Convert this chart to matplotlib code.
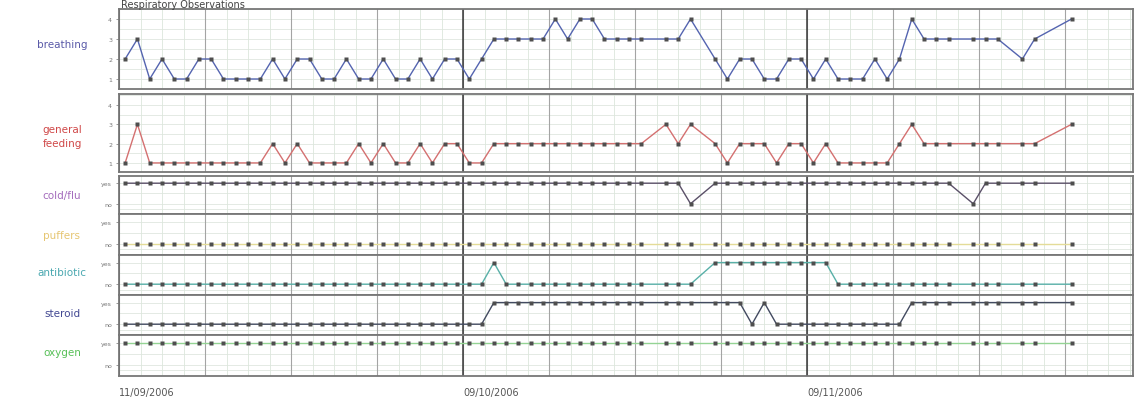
import matplotlib
matplotlib.use('Agg')
import matplotlib.pyplot as plt
import numpy as np

# one observation per day, None = not recorded
days = list(range(78))

breathing = [2, 3, 1, 2, 1, 1, 2, 2, 1, 1,
             1, 1, 2, 1, 2, 2, 1, 1, 2, 1,
             1, 2, 1, 1, 2, 1, 2, 2, 1, 2,
             3, 3, 3, 3, 3, 4, 3, 4, 4, 3,
             3, 3, 3, None, 3, 3, 4, None, 2, 1,
             2, 2, 1, 1, 2, 2, 1, 2, 1, 1,
             1, 2, 1, 2, 4, 3, 3, 3, None, 3,
             3, 3, None, 2, 3, None, None, 4]

feeding = [1, 3, 1, 1, 1, 1, 1, 1, 1, 1,
           1, 1, 2, 1, 2, 1, 1, 1, 1, 2,
           1, 2, 1, 1, 2, 1, 2, 2, 1, 1,
           2, 2, 2, 2, 2, 2, 2, 2, 2, 2,
           2, 2, 2, None, 3, 2, 3, None, 2, 1,
           2, 2, 2, 1, 2, 2, 1, 2, 1, 1,
           1, 1, 1, 2, 3, 2, 2, 2, None, 2,
           2, 2, None, 2, 2, None, None, 3]

# yes = 1, no = 0
coldflu = [1, 1, 1, 1, 1, 1, 1, 1, 1, 1,
           1, 1, 1, 1, 1, 1, 1, 1, 1, 1,
           1, 1, 1, 1, 1, 1, 1, 1, 1, 1,
           1, 1, 1, 1, 1, 1, 1, 1, 1, 1,
           1, 1, 1, None, 1, 1, 0, None, 1, 1,
           1, 1, 1, 1, 1, 1, 1, 1, 1, 1,
           1, 1, 1, 1, 1, 1, 1, 1, None, 0,
           1, 1, None, 1, 1, None, None, 1]

puffers = [0, 0, 0, 0, 0, 0, 0, 0, 0, 0,
           0, 0, 0, 0, 0, 0, 0, 0, 0, 0,
           0, 0, 0, 0, 0, 0, 0, 0, 0, 0,
           0, 0, 0, 0, 0, 0, 0, 0, 0, 0,
           0, 0, 0, None, 0, 0, 0, None, 0, 0,
           0, 0, 0, 0, 0, 0, 0, 0, 0, 0,
           0, 0, 0, 0, 0, 0, 0, 0, None, 0,
           0, 0, None, 0, 0, None, None, 0]

antibiotic = [0, 0, 0, 0, 0, 0, 0, 0, 0, 0,
              0, 0, 0, 0, 0, 0, 0, 0, 0, 0,
              0, 0, 0, 0, 0, 0, 0, 0, 0, 0,
              1, 0, 0, 0, 0, 0, 0, 0, 0, 0,
              0, 0, 0, None, 0, 0, 0, None, 1, 1,
              1, 1, 1, 1, 1, 1, 1, 1, 0, 0,
              0, 0, 0, 0, 0, 0, 0, 0, None, 0,
              0, 0, None, 0, 0, None, None, 0]

steroid = [0, 0, 0, 0, 0, 0, 0, 0, 0, 0,
           0, 0, 0, 0, 0, 0, 0, 0, 0, 0,
           0, 0, 0, 0, 0, 0, 0, 0, 0, 0,
           1, 1, 1, 1, 1, 1, 1, 1, 1, 1,
           1, 1, 1, None, 1, 1, 1, None, 1, 1,
           1, 0, 1, 0, 0, 0, 0, 0, 0, 0,
           0, 0, 0, 0, 1, 1, 1, 1, None, 1,
           1, 1, None, 1, 1, None, None, 1]

oxygen = [1, 1, 1, 1, 1, 1, 1, 1, 1, 1,
          1, 1, 1, 1, 1, 1, 1, 1, 1, 1,
          1, 1, 1, 1, 1, 1, 1, 1, 1, 1,
          1, 1, 1, 1, 1, 1, 1, 1, 1, 1,
          1, 1, 1, None, 1, 1, 1, None, 1, 1,
          1, 1, 1, 1, 1, 1, 1, 1, 1, 1,
          1, 1, 1, 1, 1, 1, 1, 1, None, 1,
          1, 1, None, 1, 1, None, None, 1]

date_pos = [-0.5, 27.5, 55.5]
date_labels = ['11/09/2006', '09/10/2006', '09/11/2006']

W, H = 1135, 402
fig = plt.figure(figsize=(W / 100, H / 100), dpi=100)
fig.patch.set_facecolor('white')

# label, data, scale?, label colour, line colour, top px, bottom px, label y px
panels = [
    ('breathing', breathing, True, '#5a5aa8', '#5464b0', 10, 90, 45),
    ('general\nfeeding', feeding, True, '#d04848', '#d47070', 95, 173, 137),
    ('cold/flu', coldflu, False, '#a46cbc', '#5a5068', 177, 215, 196),
    ('puffers', puffers, False, '#e6c672', '#e4dc98', 215, 256, 236),
    ('antibiotic', antibiotic, False, '#4aa8b0', '#58b0a8', 256, 296, 273),
    ('steroid', steroid, False, '#424892', '#424a60', 296, 336, 314),
    ('oxygen', oxygen, False, '#58c058', '#94d494', 336, 377, 353),
]

x0, x1 = -0.5, 82.0
for name, vals, scale, lcol, pcol, top, bot, ly in panels:
    ax = fig.add_axes([119 / W, 1 - bot / H, (1133 - 119) / W, (bot - top) / H])
    ax.set_xlim(x0, x1)
    if scale:
        if name == 'breathing':
            ax.set_ylim(0.5, 4.5)
        else:
            ax.set_ylim(0.53, 4.57)
        ax.set_yticks([1, 2, 3, 4])
        ax.set_yticklabels(['1', '2', '3', '4'])
        hl = np.arange(0.5, 4.6, 0.5)
    else:
        ax.set_ylim(-0.5, 1.35)
        ax.set_yticks([0, 1])
        ax.set_yticklabels(['no', 'yes'])
        hl = [-0.25, 0, 0.5, 1]
    for h in hl:
        ax.axhline(h, color='#dfe7df', lw=0.6, zorder=0)
    for v in np.arange(x0, x1, 1.75):
        ax.axvline(v, color='#dce6dc', lw=0.6, zorder=0)
    for v in np.arange(x0, x1, 7):
        ax.axvline(v, color='#a4a4a4', lw=0.8, zorder=1)
    for v in date_pos:
        ax.axvline(v, color='#3a3a3a', lw=1.1, zorder=1)

    xs = [d for d, v in zip(days, vals) if v is not None]
    ys = [v for v in vals if v is not None]
    ax.plot(xs, ys, color=pcol, lw=1.0, zorder=3)
    ax.plot(xs, ys, 's', ms=3.2, color='#4e4e4e', mec='none', zorder=4)

    ax.set_xticks([])
    ax.tick_params(axis='y', length=2, width=0.6, color='#888888',
                   labelsize=4.5, labelcolor='#777777', pad=3)
    for s in ax.spines.values():
        s.set_color('#777777')
        s.set_linewidth(1.3)

    fig.text(62 / W, 1 - ly / H, name, ha='center', va='center',
             color=lcol, fontsize=7.5, linespacing=1.5)

for p, lab in zip(date_pos, date_labels):
    fig.text((119 + (p - x0) * (1014 / (x1 - x0))) / W, 1 - 393 / H, lab,
             ha='left', va='center', fontsize=7, color='#555555')

fig.text(121 / W, 1 - 0.5 / H, 'Respiratory Observations', ha='left', va='top',
         fontsize=7, color='#444444')

fig.savefig('out.png', dpi=100)
